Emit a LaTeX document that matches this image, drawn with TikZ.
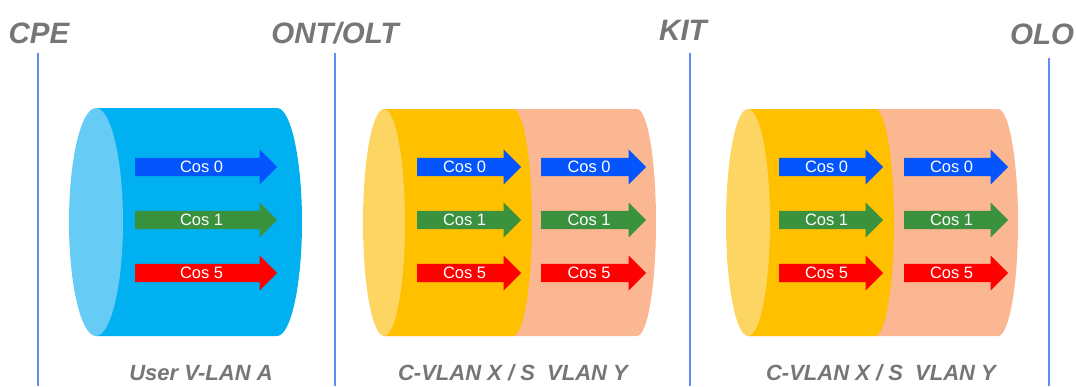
\documentclass[tikz,border=0pt]{standalone}
\usepackage{fontspec}
\setmainfont{Liberation Sans}
\usetikzlibrary{shapes.arrows}

\definecolor{labelgray}{RGB}{118,118,118}
\definecolor{linkblue}{RGB}{95,140,240}
\definecolor{vlanblue}{RGB}{0,176,240}
\definecolor{vlanbluelt}{RGB}{102,204,245}
\definecolor{cvlan}{RGB}{255,192,0}
\definecolor{cvlanlt}{RGB}{253,213,99}
\definecolor{svlan}{RGB}{251,182,146}
\definecolor{cosblue}{RGB}{5,85,255}
\definecolor{cosgreen}{RGB}{58,146,62}
\definecolor{cosred}{RGB}{255,0,0}

\tikzset{
  cosarrow/.style={single arrow, fill=#1, draw=none, text=white,
    font=\fontsize{16.5}{16.5}\selectfont, inner xsep=0pt, inner ysep=0pt,
    text height=14.7pt, text depth=3.3pt, single arrow head extend=8.5pt,
    single arrow head indent=0pt, anchor=tail},
  toplabel/.style={text=labelgray, anchor=base,
    font=\fontsize{29.5}{29.5}\selectfont\bfseries\itshape},
  botlabel/.style={text=labelgray, anchor=base,
    font=\fontsize{22}{22}\selectfont\bfseries\itshape},
  link/.style={draw=linkblue, line width=1.3pt}
}

\begin{document}
\begin{tikzpicture}[x=1pt,y=-1pt]
  \useasboundingbox (0,0) rectangle (1076,386);

  % stations
  \node[toplabel] (cpe) at (39,43) {CPE};
  \node[toplabel] (ont) at (335,43) {ONT/OLT};
  \node[toplabel] (kit) at (683,40) {KIT};
  \node[toplabel] (olo) at (1042,44) {OLO};
  \coordinate (cpetop) at (38,53);   \coordinate (cpebot) at (38,386);
  \coordinate (onttop) at (335,53);  \coordinate (ontbot) at (335,386);
  \coordinate (kittop) at (690,53);  \coordinate (kitbot) at (690,386);
  \coordinate (olotop) at (1049,58); \coordinate (olobot) at (1049,386);
  \draw[link] (cpetop) -- (cpebot);
  \draw[link] (onttop) -- (ontbot);
  \draw[link] (kittop) -- (kitbot);
  \draw[link] (olotop) -- (olobot);

  % user vlan
  \fill[vlanblue] (96,108) -- (277,108) arc[start angle=-90,end angle=90,x radius=25,y radius=114] -- (96,336) -- cycle;
  \fill[vlanbluelt] (96,222) ellipse[x radius=27,y radius=114];

  % c-vlan inside s-vlan
  \fill[svlan] (384,109) -- (637,109) arc[start angle=-90,end angle=90,x radius=19,y radius=113.5] -- (384,336) -- cycle;
  \fill[cvlan] (384,109) -- (513,109) arc[start angle=-90,end angle=90,x radius=19,y radius=113.5] -- (384,336) -- cycle;
  \fill[cvlanlt] (384,222.5) ellipse[x radius=21,y radius=113.5];

  \fill[svlan] (748,109) -- (998,109) arc[start angle=-90,end angle=90,x radius=20,y radius=113.5] -- (748,336) -- cycle;
  \fill[cvlan] (748,109) -- (875,109) arc[start angle=-90,end angle=90,x radius=19,y radius=113.5] -- (748,336) -- cycle;
  \fill[cvlanlt] (748,222.5) ellipse[x radius=22,y radius=113.5];

  % classes of service
  \foreach \x/\len/\n in {135/142/a, 417/104/b, 541/105/c, 779/104/d, 904/104/e} {
    \node[cosarrow=cosblue, minimum height=\len pt] (\n0) at (\x,167) {Cos 0};
    \node[cosarrow=cosgreen, minimum height=\len pt] (\n1) at (\x,220) {Cos 1};
    \node[cosarrow=cosred, minimum height=\len pt] (\n5) at (\x,273) {Cos 5};
  }

  \node[botlabel] (uvlan) at (201,380) {User V-LAN A};
  \node[botlabel] (csvlan1) at (513,380) {C-VLAN X / S\ \ VLAN Y};
  \node[botlabel] (csvlan2) at (881,380) {C-VLAN X / S\ \ VLAN Y};
\end{tikzpicture}
\end{document}
